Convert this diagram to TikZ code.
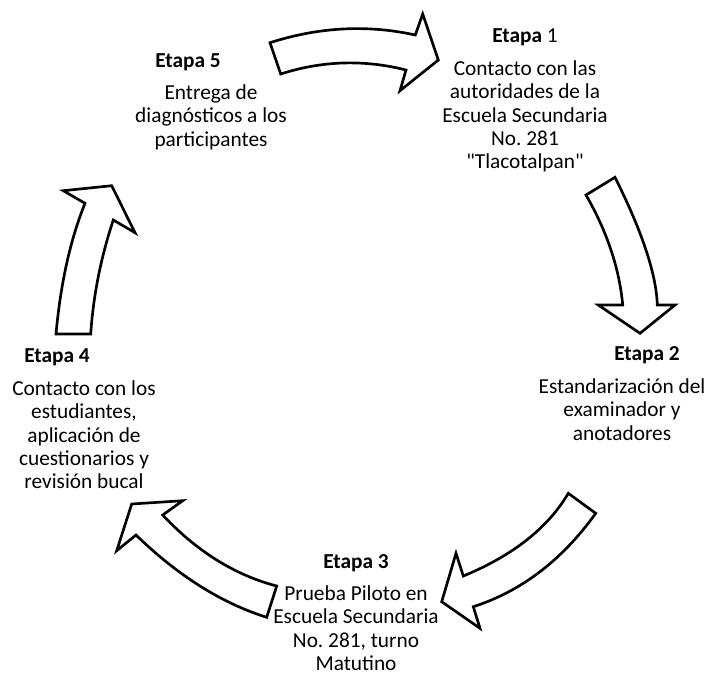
\documentclass[tikz,border=0pt]{standalone}
\usepackage{fontspec}
\setmainfont{Carlito}
\usetikzlibrary{positioning}

\begin{document}
\begin{tikzpicture}[
    x=0.75pt, y=-0.75pt,
    etapa/.style={anchor=north, inner sep=0pt, font=\fontsize{16}{17.6}\selectfont},
    texto/.style={anchor=north, inner sep=0pt, align=center, font=\fontsize{16}{17.6}\selectfont},
    flecha/.style={draw, line width=2pt, fill=white, miter limit=10}
]
    \useasboundingbox (0,0) rectangle (716,676);

    \node[etapa] (e1) at (525,28) {\textbf{Etapa} 1};
    \node[texto] (t1) at (525,60) {Contacto con las\\autoridades de la\\Escuela Secundaria\\No.\ 281\\\textquotedbl Tlacotalpan\textquotedbl};
    \node[etapa] (e2) at (647,346) {\textbf{Etapa 2}};
    \node[texto] (t2) at (622,378) {Estandarización del\\examinador y\\anotadores};
    \node[etapa] (e3) at (356,554) {\textbf{Etapa 3}};
    \node[texto] (t3) at (356,585) {Prueba Piloto en\\Escuela Secundaria\\No.\ 281, turno\\Matutino};
    \node[etapa] (e4) at (57,348) {\textbf{Etapa 4}};
    \node[texto] (t4) at (84,380) {Contacto con los\\estudiantes,\\aplicación de\\cuestionarios y\\revisión bucal};
    \node[etapa] (e5) at (188,53) {\textbf{Etapa 5}};
    \node[texto] (t5) at (211,84) {Entrega de\\diagnósticos a los\\participantes};

    \draw[flecha] (270,42.7) .. controls (318.9,27.0) and (367.3,24.4) .. (415.3,35)
        -- (422.7,14) -- (438.3,60) -- (400,90.7) -- (406,70)
        .. controls (363.8,59.3) and (322.0,60.7) .. (280.7,74) -- cycle;
    \draw[flecha] (615,177.3) .. controls (642.2,231.7) and (656.3,274.2) .. (657.3,305)
        -- (675,305) -- (640,333.3) -- (598.3,305) -- (622.7,305)
        .. controls (619.3,268.3) and (607.1,231.7) .. (586,195) -- cycle;
    \draw[flecha] (595.7,513.3) .. controls (562.2,560.0) and (521.4,591.2) .. (473.3,606.7)
        -- (480,628.3) -- (441.7,601.7) -- (456,553.3) -- (463.3,576)
        .. controls (512.8,555.6) and (547.8,528.0) .. (568.3,493.3) -- cycle;
    \draw[flecha] (266.7,617.3) .. controls (221.3,603.0) and (177.8,575.6) .. (136,535)
        -- (116.7,550.7) -- (131.7,504) -- (182.7,500.7) -- (162.7,515)
        .. controls (196.7,551.3) and (234.7,575.0) .. (276.7,586) -- cycle;
    \draw[flecha] (56,334) .. controls (60.6,283.3) and (70.3,239.7) .. (85,203.3)
        -- (63.3,190.7) -- (111.7,185.7) -- (135,232.7) -- (113.3,220)
        .. controls (100.8,257.6) and (93.3,295.6) .. (90.7,334) -- cycle;
\end{tikzpicture}
\end{document}
